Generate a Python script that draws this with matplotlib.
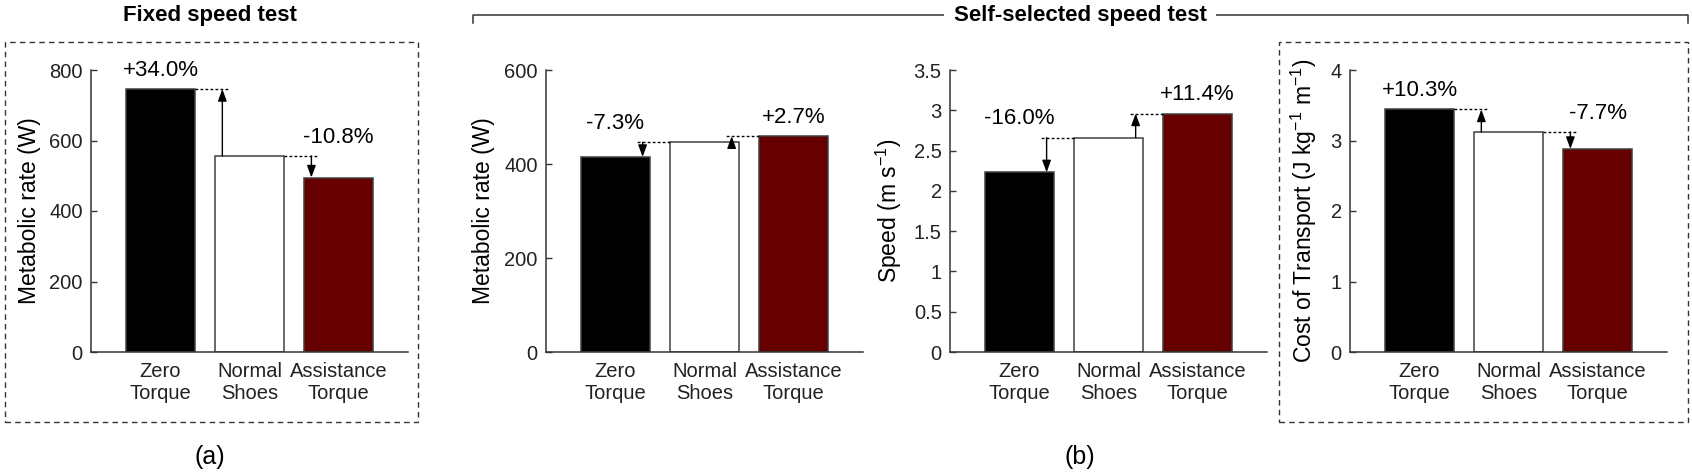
"""Fixed vs self-selected speed test: metabolic rate, speed and cost of transport."""

import matplotlib
matplotlib.use("Agg")
import matplotlib.pyplot as plt
from matplotlib.lines import Line2D
from matplotlib.patches import Rectangle

plt.rcParams["font.family"] = ["Liberation Sans", "DejaVu Sans"]
plt.rcParams["mathtext.fontset"] = "custom"
plt.rcParams["mathtext.rm"] = "Liberation Sans"

# --- data ----------------------------------------------------------------
conditions = ["Zero\nTorque", "Normal\nShoes", "Assistance\nTorque"]
bar_colors = ["#000000", "#ffffff", "#660000"]

fixed_metabolic = [746, 556, 495]
fixed_labels = ["+34.0%", "-10.8%"]

self_metabolic = [415, 446, 459]
self_metabolic_labels = ["-7.3%", "+2.7%"]

self_speed = [2.23, 2.66, 2.96]
self_speed_labels = ["-16.0%", "+11.4%"]

self_cot = [3.44, 3.12, 2.88]
self_cot_labels = ["+10.3%", "-7.7%"]

W, H = 1692, 475
BAR_W = 0.77
AX_GRAY = "#333333"
TICK_FS = 14.5
NOTE_FS = 16
LABEL_FS = 16.5


def fx(px):
    return px / W


def fy(py):
    return 1 - py / H


def mark_change(ax, vals, i, label, pos):
    """Dotted guide + arrow from Normal Shoes (index 1) to bar i, with label."""
    ref, v = vals[1], vals[i]
    xc, xr = pos[i], pos[1]
    side = 1 if xr > xc else -1
    if v > ref:
        x0 = xc + side * BAR_W / 2
        xa = x0 + side * 0.31
        ax.plot([x0, x0 + side * 0.37], [v, v], color="black", lw=1,
                ls=(0, (2, 1.6)))
    else:
        x0 = xr - side * BAR_W / 2
        xa = x0 - side * 0.31
        ax.plot([x0, x0 - side * 0.37], [ref, ref], color="black", lw=1,
                ls=(0, (2, 1.6)))
    ax.annotate("", xy=(xa, v), xytext=(xa, ref),
                arrowprops=dict(arrowstyle="-|>,head_length=0.6,head_width=0.22",
                                color="black", lw=1, shrinkA=0, shrinkB=0,
                                mutation_scale=12))
    ax.annotate(label, xy=(xc, max(v, ref)), xytext=(0, 19),
                textcoords="offset pixels", ha="center", va="center",
                fontsize=NOTE_FS)


def bar_panel(left_px, vals, labels, ylim, yticks, yticklabels, ylabel, ylabel_px):
    ax = fig.add_axes([fx(left_px), fy(352), fx(317), fy(70) - fy(352)])
    pos = [1, 2, 3]
    ax.bar(pos, vals, width=BAR_W, color=bar_colors, edgecolor="#404040",
           linewidth=1.1, zorder=2)
    ax.set_xlim(0.22, 3.78)
    ax.set_ylim(*ylim)
    ax.set_yticks(yticks)
    ax.set_yticklabels(yticklabels)
    ax.set_xticks(pos)
    ax.set_xticklabels(conditions, linespacing=1.25)
    ax.tick_params(axis="x", length=0, pad=7, labelsize=TICK_FS, colors="#222222")
    ax.tick_params(axis="y", direction="in", length=4, width=1, pad=6,
                   labelsize=TICK_FS, colors=AX_GRAY, labelcolor="#222222")
    for s in ("top", "right"):
        ax.spines[s].set_visible(False)
    for s in ("left", "bottom"):
        ax.spines[s].set_color(AX_GRAY)
        ax.spines[s].set_linewidth(1.1)
    ax.set_ylabel(ylabel, fontsize=LABEL_FS)
    ax.yaxis.set_label_coords((ylabel_px - left_px) / 317, 0.5)
    mark_change(ax, vals, 0, labels[0], pos)
    mark_change(ax, vals, 2, labels[1], pos)
    return ax


fig = plt.figure(figsize=(W / 100, H / 100), dpi=100)

bar_panel(91, fixed_metabolic, fixed_labels, (0, 800), [0, 200, 400, 600, 800],
          ["0", "200", "400", "600", "800"], "Metabolic rate (W)", 41)
bar_panel(546, self_metabolic, self_metabolic_labels, (0, 600), [0, 200, 400, 600],
          ["0", "200", "400", "600"], "Metabolic rate (W)", 495)
bar_panel(950, self_speed, self_speed_labels, (0, 3.5),
          [0, 0.5, 1, 1.5, 2, 2.5, 3, 3.5],
          ["0", "0.5", "1", "1.5", "2", "2.5", "3", "3.5"],
          r"Speed (m s$^{\mathregular{-1}}$)", 904)
bar_panel(1350, self_cot, self_cot_labels, (0, 4), [0, 1, 2, 3, 4],
          ["0", "1", "2", "3", "4"],
          r"Cost of Transport (J kg$^{\mathregular{-1}}$ m$^{\mathregular{-1}}$)", 1319)

# dashed boxes around the metabolic-cost panels
for x0, x1 in ((5, 418), (1279, 1688)):
    fig.add_artist(Rectangle((fx(x0), fy(422)), fx(x1 - x0), fy(42) - fy(422),
                             transform=fig.transFigure, fill=False,
                             ec=AX_GRAY, lw=1, ls=(0, (4, 3))))

# headings
fig.text(fx(210), fy(15), "Fixed speed test", ha="center", va="center",
         fontsize=16, fontweight="bold")
fig.add_artist(Line2D([fx(473), fx(473), fx(1688), fx(1688)],
                      [fy(23), fy(15), fy(15), fy(23)],
                      transform=fig.transFigure, color=AX_GRAY, lw=1.1))
fig.text(fx(1080), fy(15), "Self-selected speed test", ha="center", va="center",
         fontsize=16, fontweight="bold",
         bbox=dict(fc="white", ec="none", pad=7))

fig.text(fx(210), fy(457), "(a)", ha="center", va="center", fontsize=18)
fig.text(fx(1080), fy(457), "(b)", ha="center", va="center", fontsize=18)

fig.savefig("out.png", dpi=100)
